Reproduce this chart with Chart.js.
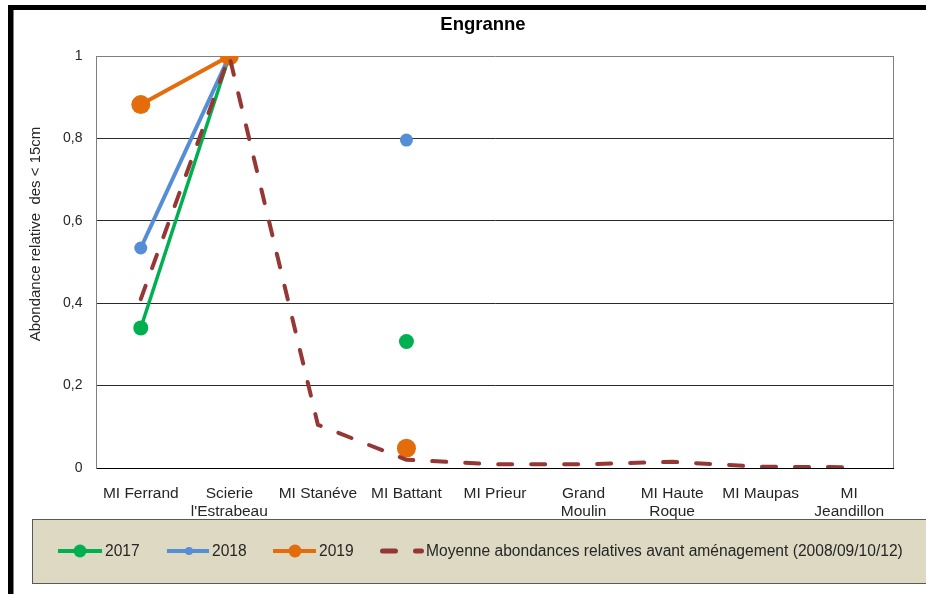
<!DOCTYPE html>
<html>
<head>
<meta charset="utf-8">
<script src="https://cdn.jsdelivr.net/npm/chart.js@4/dist/chart.umd.min.js"></script>
<style>
  html, body { margin: 0; padding: 0; background: #fff; }
  canvas { display: block; }
</style>
</head>
<body>
<canvas id="chart" width="926" height="594"></canvas>
<script>
// Sampling stations along the Engranne, upstream to downstream
const categories = [
  'MI Ferrand',
  ['Scierie', "l'Estrabeau"],
  'MI Stanéve',
  'MI Battant',
  'MI Prieur',
  ['Grand', 'Moulin'],
  ['MI Haute', 'Roque'],
  'MI Maupas',
  ['MI', 'Jeandillon']
];

// Relative abundance of fish under 15 cm
const v2017 = [0.34, 1, null, 0.307, null, null, null, null, null];
const v2018 = [0.534, 1, null, 0.796, null, null, null, null, null];
const v2019 = [0.882, 1, null, 0.048, null, null, null, null, null];
const meanBefore = [0.41, 1, 0.105, 0.02, 0.009, 0.009, 0.015, 0.003, 0.002];

const yTicks = [0, 0.2, 0.4, 0.6, 0.8, 1];
const seriesNames = ['2017', '2018', '2019', 'Moyenne abondances relatives avant aménagement (2008/09/10/12)'];
const chartTitle = 'Engranne';
const yTitle = 'Abondance relative  des < 15cm';

const FONT = "'Liberation Sans', Arial, sans-serif";
const TEXT = '#262626';

// Legend layout: sample start, text offset and marker size for each entry
const legendX = [58, 167, 273, 380];
const legendTextGap = [47, 45, 46, 46];
const legendMarker = [6.5, 4, 6.5, 0];

const decor = {
  id: 'decor',
  beforeDraw(chart) {
    const ctx = chart.ctx;
    ctx.save();
    ctx.fillStyle = '#fff';
    ctx.fillRect(0, 0, chart.width, chart.height);
    // heavy black frame on the top and left
    ctx.fillStyle = '#000';
    ctx.fillRect(8, 5, chart.width - 8, 5);
    ctx.fillRect(8, 5, 5.5, chart.height - 5);
    ctx.restore();
  },
  beforeDatasetsDraw(chart) {
    const ctx = chart.ctx;
    const a = chart.chartArea;
    ctx.save();
    ctx.strokeStyle = '#7f7f7f';
    ctx.lineWidth = 1;
    ctx.beginPath();
    const xr = Math.round(a.right) - 0.5;
    ctx.moveTo(xr, a.top);
    ctx.lineTo(xr, a.bottom);
    ctx.stroke();
    ctx.restore();
  },
  afterDraw(chart) {
    const ctx = chart.ctx;
    ctx.save();

    // title
    ctx.fillStyle = '#000';
    ctx.font = 'bold 18.5px ' + FONT;
    ctx.textAlign = 'center';
    ctx.textBaseline = 'middle';
    ctx.fillText(chartTitle, 483, 25);

    // y axis title
    ctx.save();
    ctx.translate(36, 234);
    ctx.rotate(-Math.PI / 2);
    ctx.font = '15px ' + FONT;
    ctx.fillStyle = TEXT;
    ctx.fillText(yTitle, 0, 0);
    ctx.restore();

    // legend box
    const left = 32.5, top = 519.5, bottom = 583.5;
    ctx.fillStyle = '#DDD9C3';
    ctx.fillRect(left, top, chart.width - left + 5, bottom - top);
    ctx.strokeStyle = '#595959';
    ctx.lineWidth = 1;
    ctx.strokeRect(left, top, chart.width - left + 5, bottom - top);

    const cy = 551;
    ctx.font = '15.6px ' + FONT;
    ctx.textAlign = 'left';
    ctx.textBaseline = 'middle';
    chart.data.datasets.forEach((ds, i) => {
      const x = legendX[i];
      ctx.strokeStyle = ds.borderColor;
      if (ds.borderDash) {
        ctx.lineWidth = 5;
        ctx.lineCap = 'round';
        ctx.setLineDash([13, 20]);
        ctx.beginPath();
        ctx.moveTo(x + 2.5, cy);
        ctx.lineTo(x + 41.5, cy);
        ctx.stroke();
        ctx.setLineDash([]);
      } else {
        ctx.lineWidth = 4;
        ctx.lineCap = 'butt';
        ctx.beginPath();
        ctx.moveTo(x, cy);
        ctx.lineTo(x + legendTextGap[i] - 3, cy);
        ctx.stroke();
      }
      if (legendMarker[i] > 0) {
        ctx.fillStyle = ds.backgroundColor;
        ctx.beginPath();
        ctx.arc(x + 22, cy, legendMarker[i], 0, Math.PI * 2);
        ctx.fill();
      }
      ctx.fillStyle = TEXT;
      ctx.fillText(ds.label, x + legendTextGap[i], cy + 0.5);
    });
    ctx.restore();
  }
};

new Chart(document.getElementById('chart'), {
  type: 'line',
  data: {
    labels: categories,
    datasets: [
      {
        label: seriesNames[0], data: v2017,
        borderColor: '#00B050', backgroundColor: '#00B050',
        borderWidth: 3.5, pointRadius: 7.5, pointHoverRadius: 7.5,
        pointBorderWidth: 0, tension: 0, order: 3
      },
      {
        label: seriesNames[1], data: v2018,
        borderColor: '#558ED5', backgroundColor: '#558ED5',
        borderWidth: 4, pointRadius: 6.5, pointHoverRadius: 6.5,
        pointBorderWidth: 0, tension: 0, order: 2
      },
      {
        label: seriesNames[2], data: v2019,
        borderColor: '#E46C0A', backgroundColor: '#E46C0A',
        borderWidth: 4, pointRadius: 9.5, pointHoverRadius: 9.5,
        pointBorderWidth: 0, tension: 0, order: 1
      },
      {
        label: seriesNames[3], data: meanBefore,
        borderColor: '#953735', backgroundColor: '#953735',
        borderWidth: 4, borderDash: [14, 19], borderCapStyle: 'round',
        pointRadius: 0, pointHoverRadius: 0, tension: 0, order: 0
      }
    ]
  },
  options: {
    responsive: false,
    animation: false,
    events: [],
    layout: { padding: { left: 0, top: 56, right: 32.5, bottom: 66 } },
    plugins: {
      legend: { display: false },
      title: { display: false },
      tooltip: { enabled: false }
    },
    scales: {
      x: {
        offset: true,
        grid: { display: false },
        border: { display: true, color: '#000', width: 1 },
        ticks: {
          color: TEXT,
          font: { family: FONT, size: 15.5, lineHeight: 1.2 },
          padding: 8, maxRotation: 0, minRotation: 0, autoSkip: false
        },
        afterFit(scale) { scale.height = 60; }
      },
      y: {
        min: 0, max: 1,
        afterBuildTicks(scale) { scale.ticks = yTicks.map(v => ({ value: v })); },
        grid: {
          drawTicks: false,
          lineWidth: 1,
          color: c => (c.tick && c.tick.value === 1) ? '#7f7f7f' : '#2a2a2a'
        },
        border: { display: true, color: '#7f7f7f', width: 1 },
        ticks: {
          color: TEXT,
          font: { family: FONT, size: 14 },
          padding: 14,
          callback: v => String(v).replace('.', ',')
        },
        afterFit(scale) { scale.width = 96.5; }
      }
    }
  },
  plugins: [decor]
});
</script>
</body>
</html>
